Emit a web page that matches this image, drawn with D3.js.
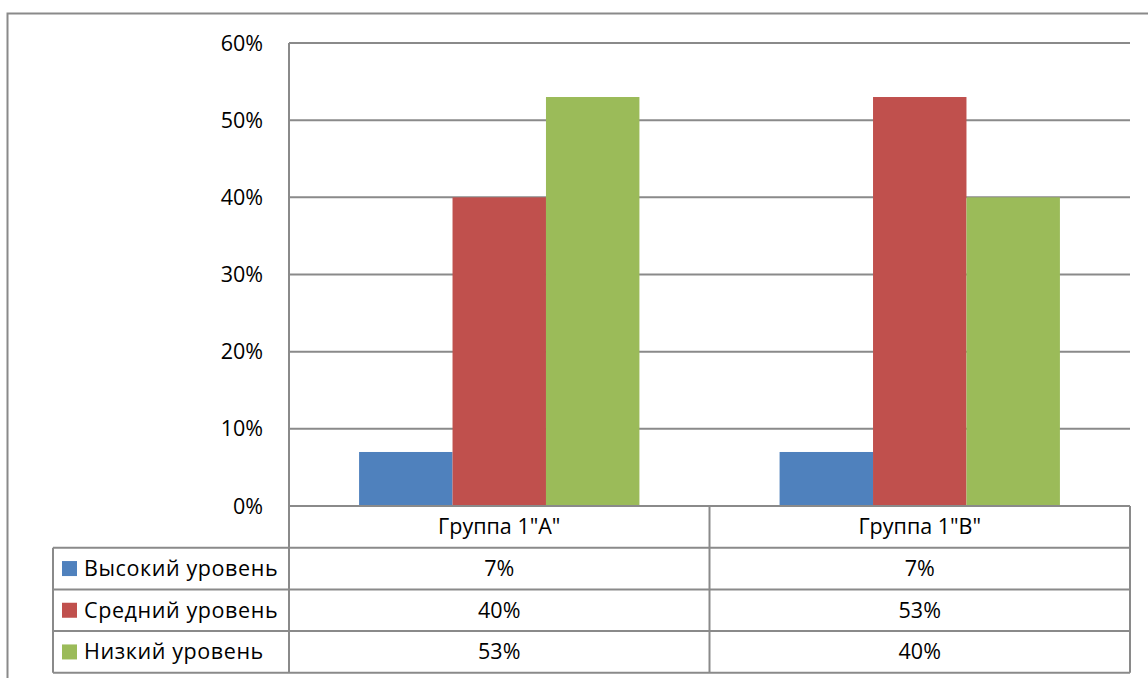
<!DOCTYPE html>
<html>
<head>
<meta charset="utf-8">
<script src="https://cdn.jsdelivr.net/npm/d3@7"></script>
<style>
  body { margin: 0; background: #fff; }
  svg text { font-family: "Open Sans", sans-serif; fill: #000; }
</style>
</head>
<body>
<div id="chart"></div>
<script>
const categories = ['Группа 1"А"', 'Группа 1"В"']
const seriesNames = ['Высокий уровень', 'Средний уровень', 'Низкий уровень']
const seriesColors = ['#4F81BD', '#C0504D', '#9BBB59']
const seriesValues = [
  [7, 7],
  [40, 53],
  [53, 40]
]
const yTicks = [0, 10, 20, 30, 40, 50, 60]

const width = 1148
const height = 678
const plot = { left: 289, right: 1130, top: 43, bottom: 506 }
const legendLeft = 53
const rowH = 41.7
const lineColor = '#8a8a8a'
const fontSize = 21.5

const svg = d3.select('#chart').append('svg')
  .attr('width', width)
  .attr('height', height)

// outer chart frame (runs off the right and bottom edges)
svg.append('rect')
  .attr('x', 7.5).attr('y', 13.5)
  .attr('width', width + 10).attr('height', height + 10)
  .attr('fill', 'none')
  .attr('stroke', lineColor)
  .attr('stroke-width', 2)

const y = d3.scaleLinear().domain([0, 60]).range([plot.bottom, plot.top])
const x = d3.scaleBand().domain(categories).range([plot.left, plot.right])
const xInner = d3.scaleBand().domain(d3.range(seriesNames.length))
  .range([0, x.bandwidth()]).paddingOuter(0.75)

// gridlines
svg.append('g').selectAll('line')
  .data(yTicks.filter(d => d > 0))
  .join('line')
  .attr('x1', plot.left).attr('x2', plot.right)
  .attr('y1', d => y(d)).attr('y2', d => y(d))
  .attr('stroke', lineColor)
  .attr('stroke-width', 2)

// y axis labels
svg.append('g').selectAll('text')
  .data(yTicks)
  .join('text')
  .attr('x', 263)
  .attr('y', d => y(d))
  .attr('dy', '0.35em')
  .attr('text-anchor', 'end')
  .style('font-size', fontSize + 'px')
  .text(d => d + '%')

// bars
const groups = svg.append('g').selectAll('g')
  .data(categories)
  .join('g')
  .attr('transform', d => `translate(${x(d)},0)`)

groups.selectAll('rect')
  .data((c, ci) => seriesValues.map((vals, si) => ({ si, v: vals[ci] })))
  .join('rect')
  .attr('x', d => xInner(d.si))
  .attr('width', xInner.bandwidth())
  .attr('y', d => y(d.v))
  .attr('height', d => plot.bottom - y(d.v))
  .attr('fill', d => seriesColors[d.si])

// data table
const rows = d3.scaleBand().domain(d3.range(seriesNames.length + 1))
  .range([plot.bottom, plot.bottom + rowH * (seriesNames.length + 1)])
const tableBottom = rows.range()[1]

const table = svg.append('g')
  .attr('stroke', lineColor)
  .attr('stroke-width', 2)

// y axis line, continues down as the table's column border
table.append('line')
  .attr('x1', plot.left).attr('x2', plot.left)
  .attr('y1', plot.top).attr('y2', tableBottom)

// column borders
table.selectAll('.col')
  .data([x(categories[1]), plot.right])
  .join('line')
  .attr('class', 'col')
  .attr('x1', d => d).attr('x2', d => d)
  .attr('y1', plot.bottom).attr('y2', tableBottom)

table.append('line')
  .attr('x1', legendLeft).attr('x2', legendLeft)
  .attr('y1', rows(1)).attr('y2', tableBottom)

// row borders
table.append('line')
  .attr('x1', plot.left).attr('x2', plot.right)
  .attr('y1', plot.bottom).attr('y2', plot.bottom)

table.selectAll('.row')
  .data(d3.range(1, seriesNames.length + 2))
  .join('line')
  .attr('class', 'row')
  .attr('x1', legendLeft).attr('x2', plot.right)
  .attr('y1', d => rows(0) + d * rowH).attr('y2', d => rows(0) + d * rowH)

// header
svg.append('g').selectAll('text')
  .data(categories)
  .join('text')
  .attr('x', d => x(d) + x.bandwidth() / 2)
  .attr('y', rows(0) + rowH / 2)
  .attr('dy', '0.35em')
  .attr('text-anchor', 'middle')
  .style('font-size', fontSize + 'px')
  .text(d => d)

// legend rows + values
const rowG = svg.append('g').selectAll('g')
  .data(seriesNames)
  .join('g')
  .attr('transform', (d, i) => `translate(0,${rows(i + 1)})`)

rowG.append('rect')
  .attr('x', 62).attr('y', rowH / 2 - 7.5)
  .attr('width', 15).attr('height', 15)
  .attr('fill', (d, i) => seriesColors[i])

rowG.append('text')
  .attr('x', 84)
  .attr('y', rowH / 2)
  .attr('dy', '0.35em')
  .style('font-size', fontSize + 'px')
  .style('letter-spacing', '0.6px')
  .text(d => d)

rowG.each(function (d, si) {
  d3.select(this).selectAll('.val')
    .data(categories)
    .join('text')
    .attr('class', 'val')
    .attr('x', c => x(c) + x.bandwidth() / 2)
    .attr('y', rowH / 2)
    .attr('dy', '0.35em')
    .attr('text-anchor', 'middle')
    .style('font-size', fontSize + 'px')
    .text((c, ci) => seriesValues[si][ci] + '%')
})
</script>
</body>
</html>
